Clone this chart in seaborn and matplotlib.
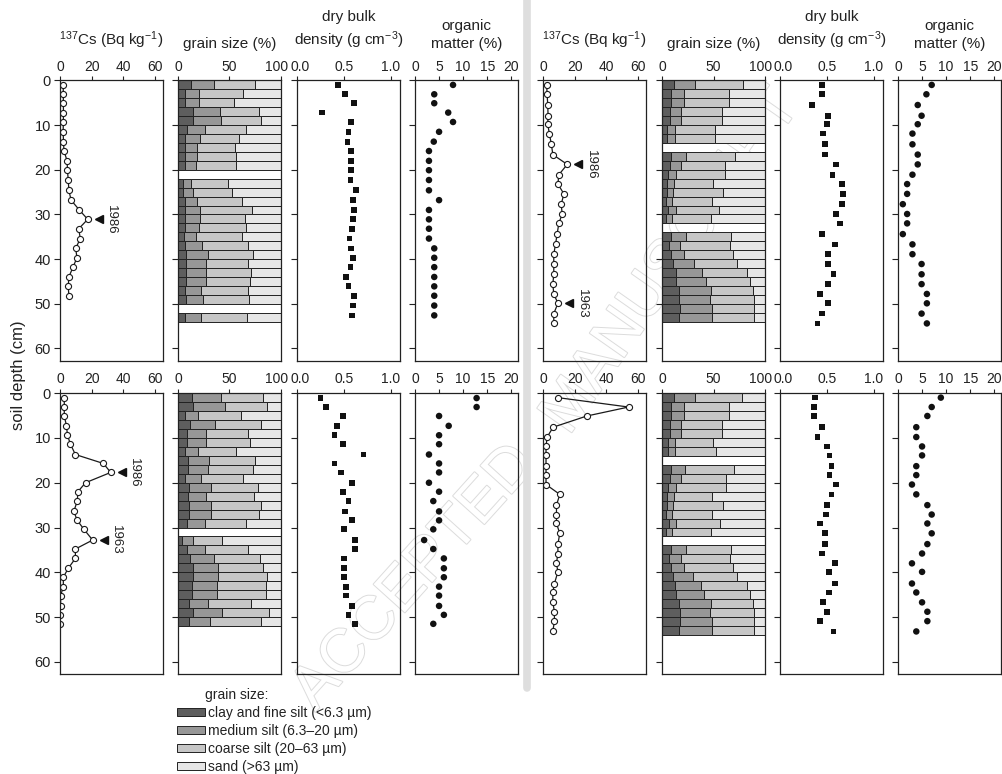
"Soil profiles: 137Cs, grain size, dry bulk density and organic matter"

import numpy as np
import matplotlib
matplotlib.use('Agg')
import matplotlib.pyplot as plt
import seaborn as sns
from matplotlib import font_manager
from matplotlib.patches import Patch
from matplotlib.lines import Line2D
from matplotlib.transforms import offset_copy, ScaledTranslation
import matplotlib.patheffects as pe

# ---------------- data ----------------
# top-left core
tl_depth = [1.0, 3.1, 5.1, 7.2, 9.3, 11.5, 13.7, 15.8, 18.0, 20.1, 22.3, 24.6, 26.8,
            29.0, 31.1, 33.2, 35.4, 37.6, 39.7, 41.8, 44.0, 46.1, 48.2, 50.4, 52.6]
tl_cs = [2.0, 2.1, 2.1, 2.2, 2.1, 2.0, 2.2, 2.5, 4.5, 4.7, 5.2, 5.6, 7.0, 12.2, 17.5,
         11.8, 12.8, 9.9, 10.7, 8.2, 5.6, 5.2, 5.6]
tl_dens = [0.44, 0.51, 0.61, 0.27, 0.58, 0.55, 0.54, 0.58, 0.58, 0.58, 0.57, 0.63, 0.60,
           0.61, 0.60, 0.59, 0.56, 0.58, 0.60, 0.57, 0.52, 0.55, 0.61, 0.60, 0.59]
tl_om = [7.9, 4.0, 4.0, 6.9, 7.9, 5.0, 3.9, 2.9, 2.9, 2.9, 2.9, 2.9, 5.0, 2.9, 2.9,
         2.9, 2.9, 4.0, 4.0, 4.0, 4.0, 4.0, 4.0, 4.0, 4.0]
tl_tops = [0, 2, 4, 6, 8, 10, 12, 14, 16, 18, 22, 24, 26, 28, 30, 32, 34, 36, 38, 40,
           42, 44, 46, 48, 52]
tl_clay = [12.3, 7.1, 7.1, 15.0, 15.0, 9.1, 7.1, 6.5, 6.5, 6.5, 5.2, 5.2, 6.5, 7.1, 7.1,
           7.1, 5.8, 7.1, 8.1, 8.1, 8.1, 8.1, 7.1, 8.1, 7.1]
tl_med = [22.7, 13.4, 13.4, 25.6, 27.2, 17.5, 14.7, 12.0, 12.0, 11.4, 7.8, 9.8, 12.0,
          14.3, 14.3, 13.4, 11.4, 15.9, 20.8, 18.8, 18.8, 18.8, 15.0, 16.3, 15.0]
tl_coarse = [40.0, 42.8, 34.0, 38.0, 38.0, 39.0, 37.0, 37.0, 38.0, 38.6, 35.7, 37.9, 43.2,
             50.4, 43.9, 45.4, 44.5, 44.9, 44.1, 41.0, 43.9, 42.6, 45.8, 44.8, 44.8]
tl_dates = {14: '1986'}

# top-right core
tr_depth = [1.0, 3.1, 5.5, 7.9, 9.8, 11.9, 14.3, 16.6, 18.8, 21.1, 23.2, 25.4, 27.7,
            29.9, 32.0, 34.4, 36.7, 38.9, 41.1, 43.4, 45.6, 47.8, 49.9, 52.2, 54.4]
tr_cs = [2.3, 2.6, 3.0, 3.2, 3.0, 4.0, 5.3, 6.2, 15.3, 10.0, 9.4, 13.2, 11.5, 12.1,
         10.0, 8.9, 7.9, 6.8, 6.8, 6.8, 6.2, 6.8, 9.4, 6.8, 6.8]
tr_dens = [0.45, 0.45, 0.34, 0.51, 0.50, 0.46, 0.48, 0.48, 0.60, 0.56, 0.66, 0.67, 0.66,
           0.60, 0.64, 0.45, 0.59, 0.51, 0.51, 0.57, 0.51, 0.43, 0.51, 0.45, 0.40]
tr_om = [7.0, 5.9, 4.1, 4.9, 4.1, 3.0, 3.0, 4.1, 4.1, 3.0, 1.9, 1.9, 1.0, 1.9, 1.9,
         1.0, 3.0, 3.0, 4.9, 4.9, 4.9, 6.0, 6.0, 4.9, 6.0]
tr_tops = [0, 2, 4, 6, 8, 10, 12, 16, 18, 20, 22, 24, 26, 28, 30, 34, 36, 38, 40, 42,
           44, 46, 48, 50, 52]
tr_clay = [12.1, 8.8, 8.8, 7.5, 7.5, 5.2, 5.2, 8.8, 7.5, 6.2, 5.2, 4.9, 4.2, 5.5, 4.2,
           9.1, 6.5, 9.1, 10.7, 14.0, 14.0, 16.6, 16.6, 17.3, 16.6]
tr_med = [19.8, 12.4, 12.7, 11.1, 11.1, 7.2, 7.2, 14.3, 11.1, 7.5, 6.5, 5.5, 5.6, 8.2,
          5.6, 14.4, 11.4, 12.7, 20.2, 24.8, 28.3, 31.3, 30.0, 31.6, 32.3]
tr_coarse = [46.9, 43.9, 43.6, 39.7, 39.7, 39.1, 39.1, 47.6, 43.0, 47.9, 37.8, 49.2, 39.1,
             41.8, 37.7, 43.3, 47.9, 47.3, 41.7, 43.3, 42.7, 40.7, 43.0, 40.7, 40.7]
tr_dates = {8: '1986', 22: '1963'}

# bottom-left core
bl_depth = [1.1, 3.1, 5.1, 7.3, 9.4, 11.4, 13.7, 15.7, 17.7, 20.0, 22.0, 24.1, 26.4,
            28.4, 30.4, 32.8, 34.8, 36.9, 39.1, 41.1, 43.2, 45.2, 47.5, 49.5, 51.5]
bl_cs = [2.7, 2.7, 2.7, 4.1, 4.7, 6.6, 9.7, 27.4, 32.0, 16.1, 11.3, 10.9, 8.7, 10.9,
         15.1, 20.6, 9.7, 9.7, 5.2, 2.1, 2.1, 0.4, 0.4, 0.0, 0.0]
bl_dens = [0.25, 0.31, 0.49, 0.43, 0.40, 0.49, 0.71, 0.40, 0.47, 0.59, 0.49, 0.55, 0.51,
           0.59, 0.50, 0.62, 0.62, 0.50, 0.50, 0.50, 0.52, 0.52, 0.59, 0.55, 0.62]
bl_om = [12.8, 12.8, 5.0, 7.0, 5.0, 5.0, 2.9, 5.0, 5.0, 2.9, 5.0, 3.8, 5.0, 5.0, 3.8,
         1.9, 3.8, 6.0, 6.0, 6.0, 5.0, 5.0, 5.0, 6.0, 3.8]
bl_tops = [0, 2, 4, 6, 8, 10, 12, 14, 16, 18, 20, 22, 24, 26, 28, 32, 34, 36, 38, 40,
           42, 44, 46, 48, 50]
bl_clay = [13.4, 15.0, 7.2, 12.1, 8.5, 8.5, 7.2, 10.1, 10.1, 7.2, 11.1, 9.8, 11.1, 11.1,
           8.5, 4.2, 8.5, 12.1, 15.0, 15.0, 13.4, 13.4, 10.8, 15.0, 10.8]
bl_med = [28.4, 30.4, 12.7, 23.5, 18.6, 18.6, 12.1, 20.3, 19.0, 14.7, 20.6, 17.7, 20.6,
          20.6, 17.3, 9.9, 17.3, 22.5, 23.9, 23.9, 24.2, 24.2, 18.6, 27.5, 20.6]
bl_coarse = [40.9, 41.2, 41.5, 44.5, 40.5, 43.2, 37.2, 44.1, 43.8, 41.5, 46.4, 46.0, 49.0,
             46.7, 40.5, 28.7, 42.5, 44.8, 43.8, 47.7, 47.7, 47.7, 41.8, 46.1, 49.6]
bl_dates = {8: '1986', 15: '1963'}

# bottom-right core
br_depth = [1.0, 3.1, 5.1, 7.6, 9.8, 11.9, 13.9, 16.3, 18.3, 20.4, 22.6, 25.0, 27.1,
            29.1, 31.3, 33.7, 35.8, 38.0, 39.9, 42.5, 44.5, 46.7, 48.8, 50.9, 53.2]
br_cs = [9.4, 54.0, 27.7, 6.4, 2.6, 1.9, 1.9, 1.9, 1.9, 1.9, 10.6, 8.5, 8.5, 8.5, 10.6,
         9.4, 9.4, 8.5, 9.4, 7.2, 6.2, 6.2, 7.2, 7.2, 6.2]
br_dens = [0.375, 0.36, 0.36, 0.45, 0.40, 0.50, 0.53, 0.55, 0.53, 0.60, 0.55, 0.50, 0.49,
           0.43, 0.48, 0.48, 0.45, 0.59, 0.52, 0.59, 0.52, 0.46, 0.50, 0.43, 0.57]
br_om = [8.9, 7.0, 6.1, 3.8, 3.8, 5.0, 5.0, 3.8, 3.8, 2.9, 3.8, 6.1, 7.0, 6.1, 7.0,
         6.1, 5.0, 2.9, 5.0, 2.9, 3.8, 5.0, 6.1, 6.1, 3.8]
br_tops = tr_tops
br_clay = [12.1, 8.9, 8.9, 8.2, 8.2, 5.6, 5.6, 9.2, 7.5, 6.2, 5.2, 4.9, 4.3, 6.9, 4.3,
           8.9, 6.9, 8.9, 10.8, 13.1, 13.4, 16.7, 17.4, 17.4, 16.7]
br_med = [19.7, 12.4, 12.4, 9.8, 9.8, 7.2, 7.2, 13.4, 11.2, 7.6, 6.6, 5.9, 5.5, 6.9,
          5.5, 14.7, 11.5, 12.4, 19.7, 24.6, 27.6, 30.8, 28.8, 31.5, 32.2]
br_coarse = [45.9, 43.3, 43.3, 40.0, 40.0, 37.0, 39.3, 46.9, 43.3, 48.2, 36.7, 48.9, 38.7,
             42.6, 37.7, 43.6, 47.8, 47.2, 42.6, 45.3, 44.2, 40.4, 43.0, 40.3, 40.3]
br_dates = {}

grain_labels = ['clay and fine silt (<6.3 µm)', 'medium silt (6.3–20 µm)',
                'coarse silt (20–63 µm)', 'sand (>63 µm)']
grain_colors = ['#5e5e5e', '#979797', '#c6c6c6', '#e6e6e6']

# ---------------- style ----------------
sns.set_style('ticks')
names = {f.name for f in font_manager.fontManager.ttflist}
base = 'Liberation Sans Narrow' if 'Liberation Sans Narrow' in names else 'Liberation Sans'
plt.rcParams['font.family'] = [base, 'DejaVu Sans']
plt.rcParams['mathtext.default'] = 'regular'
plt.rcParams['axes.edgecolor'] = '#222222'
plt.rcParams['axes.linewidth'] = 0.9
plt.rcParams['xtick.color'] = '#222222'
plt.rcParams['ytick.color'] = '#222222'
plt.rcParams['text.color'] = '#222222'

W, H = 1003, 774
fig = plt.figure(figsize=(W / 100, H / 100), dpi=100)

# faint watermark behind the panels
wm = dict(fontsize=44, color='white', ha='center', va='center', zorder=-10,
          path_effects=[pe.withStroke(linewidth=1.4, foreground='#dcdcdc')])
fig.text(415 / W, 1 - 578 / H, 'ACCEPTED', rotation=48, **wm)
fig.text(672 / W, 1 - 262 / H, 'MANUSCRIPT', rotation=55, **wm)

col_left = [[60, 178, 297, 415], [543, 662, 780, 898]]
col_w = 103
rows = [(80, 360.5), (392.7, 674)]

titles = [r'$^{137}$Cs (Bq kg$^{-1}$)', 'grain size (%)',
          'dry bulk\ndensity (g cm$^{-3}$)', 'organic\nmatter (%)']
xlims = [(0, 65), (0, 100), (0, 1.1), (0, 21.4)]
xticks = [[0, 20, 40, 60], [0, 50, 100], [0, 0.5, 1.0], [0, 5, 10, 15, 20]]
xtlabels = [['0', '20', '40', '60'], ['0', '50', '100'], ['0.0', '0.5', '1.0'],
            ['0', '5', '10', '15', '20']]

cores = [
    (0, 0, tl_depth, tl_cs, tl_dens, tl_om, tl_tops, tl_clay, tl_med, tl_coarse, tl_dates),
    (0, 1, tr_depth, tr_cs, tr_dens, tr_om, tr_tops, tr_clay, tr_med, tr_coarse, tr_dates),
    (1, 0, bl_depth, bl_cs, bl_dens, bl_om, bl_tops, bl_clay, bl_med, bl_coarse, bl_dates),
    (1, 1, br_depth, br_cs, br_dens, br_om, br_tops, br_clay, br_med, br_coarse, br_dates),
]

for row, grp, depth, cs, dens, om, tops, clay, med, coarse, dates in cores:
    y0, y1 = rows[row]
    axes = []
    for k in range(4):
        x0 = col_left[grp][k]
        ax = fig.add_axes([x0 / W, 1 - y1 / H, col_w / W, (y1 - y0) / H])
        ax.set_facecolor('none')
        axes.append(ax)
    ax_cs, ax_gr, ax_de, ax_om = axes
    depth = np.array(depth)

    # 137Cs profile
    sns.lineplot(x=cs, y=depth[:len(cs)], sort=False, estimator=None, color='#1a1a1a',
                 lw=0.9, marker='o', markersize=4.4, markerfacecolor='white',
                 markeredgecolor='#1a1a1a', markeredgewidth=0.8, ax=ax_cs)
    tri = offset_copy(ax_cs.transData, fig=fig, x=8, y=0, units='points')
    for i, yr in dates.items():
        ax_cs.plot(cs[i], depth[i], marker='<', color='#111111', ms=6, transform=tri,
                   clip_on=False)
        ax_cs.annotate(yr, xy=(cs[i], depth[i]), xytext=(17, 0), textcoords='offset points',
                       rotation=270, ha='center', va='center', fontsize=9.5)

    # grain size stacked bars
    fr = [np.array(clay), np.array(med), np.array(coarse)]
    fr.append(100 - fr[0] - fr[1] - fr[2])
    left = np.zeros(len(tops))
    for vals, c in zip(fr, grain_colors):
        ax_gr.barh(tops, vals, left=left, height=2, align='edge', color=c,
                   edgecolor='#222222', linewidth=0.7)
        left = left + vals

    # dry bulk density and organic matter
    sns.scatterplot(x=dens, y=depth, marker='s', s=17, color='#111111', edgecolor='none',
                    ax=ax_de)
    sns.scatterplot(x=om, y=depth, marker='o', s=22, color='#111111', edgecolor='none',
                    ax=ax_om)

    for k, ax in enumerate(axes):
        ax.set_xlim(*xlims[k])
        ax.set_ylim(62.7, -0.1)
        ax.set_xlabel('')
        ax.set_ylabel('')
        ax.set_xticks(xticks[k])
        ax.set_xticklabels(xtlabels[k])
        ax.xaxis.tick_top()
        ax.tick_params(axis='x', direction='out', length=3, width=0.8, pad=1.5,
                       labelsize=10, top=True, bottom=False)
        ax.set_yticks([0, 10, 20, 30, 40, 50, 60])
        ax.tick_params(axis='y', direction='out', length=4.5, width=0.8, pad=2,
                       labelsize=10.5)
        if not (k == 0 and grp == 0):
            ax.set_yticklabels([])
        for s in ax.spines.values():
            s.set_visible(True)
        if row == 0:
            xc = (col_left[grp][k] + col_w / 2) / W
            fig.text(xc, 1 - 51 / H, titles[k], ha='center', va='bottom', fontsize=11,
                     linespacing=1.35)

    # keep the "100" and "0.0" labels of neighbouring panels apart
    lab = ax_gr.get_xticklabels()[-1]
    lab.set_transform(lab.get_transform() + ScaledTranslation(-4 / 100, 0, fig.dpi_scale_trans))
    lab = ax_de.get_xticklabels()[0]
    lab.set_transform(lab.get_transform() + ScaledTranslation(3 / 100, 0, fig.dpi_scale_trans))

fig.text(19 / W, 1 - 375 / H, 'soil depth (cm)', rotation=90, ha='center', va='center',
         fontsize=12)

# divider between the two sites
fig.add_artist(Line2D([527 / W, 527 / W], [1 - 688 / H, 1.0], color='#dedede', lw=5.5,
                      zorder=-5))

# legend
fig.text(205 / W, 1 - 695 / H, 'grain size:', ha='left', va='center', fontsize=10)
handles = [Patch(facecolor=c, edgecolor='#222222', linewidth=0.7) for c in grain_colors]
fig.legend(handles, grain_labels, loc='upper left', bbox_to_anchor=(177 / W, 1 - 706 / H),
           frameon=False, borderpad=0, borderaxespad=0, handletextpad=0.25,
           labelspacing=0.28, handlelength=2.0, handleheight=0.5, fontsize=10)

fig.savefig('out.png', dpi=100)
